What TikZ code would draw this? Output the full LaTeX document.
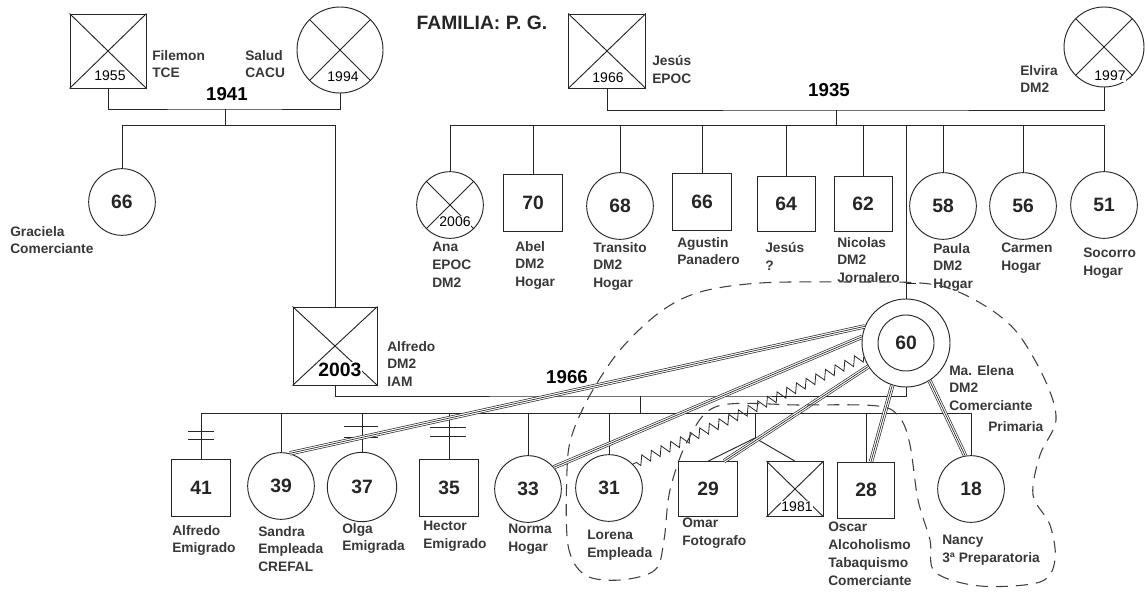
\documentclass[tikz,border=0pt]{standalone}
\usepackage{fontspec}
\setmainfont{Liberation Sans}
\usetikzlibrary{decorations.pathmorphing}
\newcommand\gnum{\fontsize{14.5}{16}\selectfont\bfseries}
\newcommand\glbl{\fontsize{10.3}{13.3}\selectfont\bfseries}
\begin{document}
\begin{tikzpicture}[x=0.75pt,y=-0.75pt,
  ln/.style={line width=0.7pt, black!85},
  sqr/.style={draw, ln, rectangle, inner sep=0, minimum width=44pt, minimum height=42.5pt, font=\gnum},
  crc/.style={draw, ln, circle, inner sep=0, minimum size=50pt, font=\gnum},
  lbl/.style={anchor=north west, align=left, inner sep=0, font=\glbl, text=black!78},
  yr/.style={font=\fontsize{10.5}{12}\selectfont, fill=white, inner sep=0.6pt},
  bigyr/.style={font=\fontsize{14}{16}\selectfont\bfseries, inner sep=0},
  tripo/.style={double, double distance=2.2pt, line width=0.5pt, black!85},
  tripi/.style={line width=0.5pt, black!85},
  zz/.style={line width=0.6pt, black!85, decorate, decoration={zigzag, segment length=8pt, amplitude=3.5pt}},
  hh/.style={line width=0.8pt, black!75, dash pattern=on 9pt off 6pt}
]
\useasboundingbox (0,0) rectangle (1145,592);
\fill[white] (0,0) rectangle (1145,592);

% ---------- title
\node[font=\fontsize{14.5}{16}\selectfont\bfseries, text=black!85] (title) at (482,23) {FAMILIA: P. G.};

% ---------- paternal grandparents
\node[sqr, minimum width=57pt, minimum height=55.5pt] (filemon) at (108,51) {};
\draw[ln] (filemon.north west) -- (filemon.south east) (filemon.north east) -- (filemon.south west);
\node[yr] (filemonyr) at (110,76) {1955};
\node[crc, minimum size=64.5pt] (salud) at (340,50) {};
\draw[ln] (salud.135) -- (salud.-45) (salud.45) -- (salud.225);
\node[yr] (saludyr) at (343,77) {1994};
\node[lbl] (filemonl) at (152,50) {Filemon\\TCE};
\node[lbl] (saludl) at (245,50) {Salud\\CACU};
\coordinate (m1) at (225,109);
\draw[ln] (filemon.south) |- (m1) -| (salud.south);
\node[bigyr] (y1941) at (227,94) {1941};
\coordinate (s1) at (225,125);
\draw[ln] (m1) -- (s1);
\node[crc] (graciela) at (122,202) {66};
\node[lbl] (gracielal) at (10,226) {Graciela\\Comerciante};
\node[sqr, minimum width=63pt, minimum height=58.5pt] (alfredo) at (335,346) {};
\draw[ln] (alfredo.north west) -- (alfredo.south east) (alfredo.north east) -- (alfredo.south west);
\node[font=\fontsize{14.5}{16}\selectfont\bfseries, fill=white, inner sep=0.6pt] (alfredoyr) at (340,370) {2003};
\node[lbl] (alfredol) at (387,341) {Alfredo\\DM2\\IAM};
\draw[ln] (graciela.north) |- (s1);
\draw[ln] (s1) -| (alfredo.north);

% ---------- maternal grandparents
\node[sqr, minimum width=57.5pt, minimum height=55.5pt] (jesus) at (607,51) {};
\draw[ln] (jesus.north west) -- (jesus.south east) (jesus.north east) -- (jesus.south west);
\node[yr] (jesusyr) at (608,78) {1966};
\node[lbl] (jesusl) at (652,55) {Jesús\\EPOC};
\node[crc, minimum size=60pt] (elvira) at (1104,47) {};
\draw[ln] (elvira.135) -- (elvira.-45) (elvira.45) -- (elvira.225);
\node[yr] (elvirayr) at (1110,76) {1997};
\node[lbl] (elvl) at (1020,65) {Elvira\\DM2};
\coordinate (m2) at (836,110);
\draw[ln] (jesus.south) |- (m2) -| (elvira.south);
\node[bigyr] (y1935) at (829,90) {1935};
\coordinate (s2) at (836,125);
\draw[ln] (m2) -- (s2);

% children of Jesus & Elvira
\node[crc] (ana) at (450,205) {};
\draw[ln] (ana.135) -- (ana.-45) (ana.45) -- (ana.225);
\node[yr] (anayr) at (455,222) {2006};
\node[sqr] (abel) at (533,203) {70};
\node[crc] (transito) at (620,206) {68};
\node[sqr] (agustin) at (702,202) {66};
\node[sqr, minimum width=43.5pt, minimum height=41pt] (jesus2) at (786,204) {64};
\node[sqr, minimum width=43.5pt, minimum height=41pt] (nicolas) at (863,204) {62};
\node[crc] (paula) at (943,206) {58};
\node[crc] (carmen) at (1023,206) {56};
\node[crc] (socorro) at (1104,205) {51};
\node[crc, minimum size=66pt] (me) at (906,343) {};
\node[circle, draw, ln, minimum size=42pt, inner sep=0, font=\gnum] (mein) at (me.center) {60};

\draw[ln] (ana.north) |- (s2);
\draw[ln] (s2) -| (socorro.north);
\foreach \n in {abel,transito,agustin,jesus2,nicolas,paula,carmen,me}
  \draw[ln] (\n.north) -- (\n.north |- s2);
\coordinate (tick) at (916,283);
\draw[ln] (tick) -- (tick -| me.north);

\node[lbl] (anal) at (432,242) {Ana\\EPOC\\DM2};
\node[lbl] (abell) at (515,241) {Abel\\DM2\\Hogar};
\node[lbl] (transitol) at (593,242) {Transito\\DM2\\Hogar};
\node[lbl] (agustinl) at (677,237) {Agustin\\Panadero};
\node[lbl] (jesus2l) at (765,242) {Jesús\\?};
\node[lbl] (nicolasl) at (837,237) {Nicolas\\DM2\\Jornalero};
\node[lbl] (paulal) at (933,243) {Paula\\DM2\\Hogar};
\node[lbl] (carmenl) at (1001,243) {Carmen\\Hogar};
\node[lbl] (socorrol) at (1083,248) {Socorro\\Hogar};
\node[lbl] (mel) at (949,365) {Ma. Elena\\DM2\\Comerciante};
\node[lbl] (primaria) at (988,421) {Primaria};

% ---------- marriage 1966
\coordinate (m3) at (640,396);
\draw[ln] (alfredo.south) |- (m3) -| (me.south);
\node[bigyr] (y1966) at (567,377) {1966};
\coordinate (s3) at (640,413);
\draw[ln] (m3) -- (s3);

% children
\node[sqr] (a41) at (201,488) {41};
\node[crc] (sandra) at (281,486) {39};
\node[crc, minimum size=52pt] (olga) at (362,487) {37};
\node[sqr] (hector) at (449,488) {35};
\node[crc] (norma) at (528,489) {33};
\node[crc] (lorena) at (609,488) {31};
\node[sqr, minimum width=44pt, minimum height=41pt] (omar) at (708,489) {29};
\node[sqr, minimum width=42pt, minimum height=41pt] (dead) at (795,489) {};
\draw[ln] (dead.north west) -- (dead.south east) (dead.north east) -- (dead.south west);
\node[yr] (deadyr) at (797,507) {1981};
\node[sqr, minimum width=43pt, minimum height=42pt] (oscar) at (866,490) {28};
\node[crc] (nancy) at (971,489) {18};

\draw[ln] (a41.north) |- (s3);
\draw[ln] (s3) -| (nancy.north);
\foreach \n in {sandra,olga,hector,norma,lorena,oscar}
  \draw[ln] (\n.north) -- (\n.north |- s3);
\coordinate (tw) at (755,438);
\draw[ln] (tw |- s3) -- (tw);
\draw[ln] (omar.north) -- (tw) -- (dead.north);

% emigration marks
\draw[ln] (188,431) -- (214,431) (188,439) -- (214,439);
\draw[ln] (344,426) -- (378,426) (344,437) -- (378,437);
\draw[ln] (430,427) -- (466,427) (430,436) -- (466,436);

\node[lbl] (a41l) at (172,525) {Alfredo\\Emigrado};
\node[lbl] (sandral) at (258,526) {Sandra\\Empleada\\CREFAL};
\node[lbl] (olgal) at (342,523) {Olga\\Emigrada};
\node[lbl] (hectorl) at (423,521) {Hector\\Emigrado};
\node[lbl] (normal) at (508,524) {Norma\\Hogar};
\node[lbl] (lorenal) at (587,530) {Lorena\\Empleada};
\node[lbl] (omarl) at (682,518) {Omar\\Fotografo};
\node[lbl] (oscarl) at (828,522) {Oscar\\Alcoholismo\\Tabaquismo\\Comerciante};
\node[lbl] (nancyl) at (942,535) {Nancy\\3ª Preparatoria};

% ---------- relationship lines
\draw[tripo] (me.158) -- (sandra.75);  \draw[tripi] (me.158) -- (sandra.75);
\draw[tripo] (me.172) -- (norma.40);   \draw[tripi] (me.172) -- (norma.40);
\draw[zz] (me.198) -- (lorena.45);
\draw[tripo] (me.212) -- (omar.60);    \draw[tripi] (me.212) -- (omar.60);
\draw[tripo] (me.252) -- (oscar.80);   \draw[tripi] (me.252) -- (oscar.80);
\draw[tripo] (me.302) -- (nancy.100);  \draw[tripi] (me.302) -- (nancy.100);

% ---------- household boundary
\draw[hh] plot[smooth cycle, tension=0.55] coordinates {
 (567,470) (568,545) (585,575) (620,580) (655,570) (664,540) (670,490) (688,440)
 (718,406) (800,405) (878,406) (900,418) (910,445) (918,500) (930,540) (935,572)
 (980,586) (1040,582) (1055,560) (1050,525) (1033,495) (1040,455) (1056,420)
 (1045,380) (1015,330) (975,300) (930,284) (850,282) (760,283) (700,292)
 (660,312) (620,350) (590,395) (572,435)};
\end{tikzpicture}
\end{document}
